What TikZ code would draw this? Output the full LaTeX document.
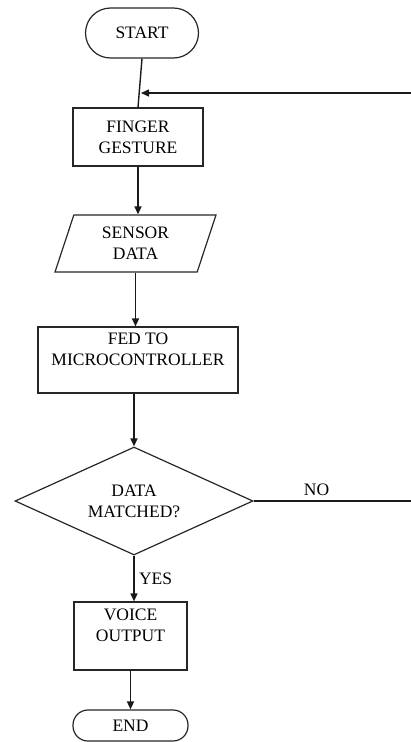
\documentclass[tikz,border=0pt]{standalone}
\usepackage{fontspec}
\setmainfont{Liberation Serif}
\usetikzlibrary{shapes.geometric,arrows.meta}
\tikzset{
	flow/.style={draw=black!85,line width=1.2pt,align=center,font=\fontsize{17.5}{21}\selectfont,inner sep=0pt},
	terminal/.style={flow,rounded corners=16pt},
	procbox/.style={flow,rectangle},
	iobox/.style={flow,trapezium,trapezium left angle=60,trapezium right angle=120,trapezium stretches body},
	decide/.style={flow,diamond,aspect=2.2},
	link/.style={draw=black!90,line width=1.4pt},
	arr/.style={link,-{Triangle[length=8pt,width=7pt]}},
	tag/.style={font=\fontsize{17.5}{21}\selectfont}
}
\begin{document}
\begin{tikzpicture} [x=1pt,y=-1pt]
		\useasboundingbox (0,0) rectangle (411,742);
		% blocks
		\node [terminal,minimum width=113pt,minimum height=50pt,rounded corners=25pt] (start) at (142,33) {START};
		\node [procbox,minimum width=130pt,minimum height=58pt] (finger) at (138,137) {FINGER\\GESTURE};
		\node [iobox,minimum width=161pt,minimum height=57pt] (sensor) at (135.5,243.5) {SENSOR\\DATA};
		\node [procbox,minimum width=200pt,minimum height=66pt] (micro) at (138,360) {FED TO\\MICROCONTROLLER\\\mbox{}};
		\node [decide,minimum width=238pt,minimum height=108pt] (match) at (134,501) {DATA\\MATCHED?};
		\node [procbox,minimum width=113pt,minimum height=68pt] (voice) at (130.5,636) {VOICE\\OUTPUT\\\mbox{}};
		\node [terminal,minimum width=115pt,minimum height=31pt,rounded corners=15pt] (stop) at (130.5,725.5) {END};
		% loop ends at the page edge
		\coordinate (loopR) at (411,93);
		\coordinate (noR) at (411,501);
		\coordinate (loopin) at (141,93);
		% connectors
		\draw [link] (start.south) -- (finger.north);
		\draw [arr] (loopR) -- (loopin);
		\draw [arr] (finger.south) -- (finger.south |- sensor.north);
		\draw [arr] (sensor.south) -- (sensor.south |- micro.north);
		\draw [arr] (micro.south -| match.north) -- (match.north);
		\draw [link] (match.east) -- node [tag,pos=0.4,above=1pt] {NO} (noR);
		\draw [arr] (match.south) -- node [tag,midway,right=1pt] {YES} (match.south |- voice.north);
		\draw [arr] (voice.south) -- (stop.north);
	\end{tikzpicture}
\end{document}
